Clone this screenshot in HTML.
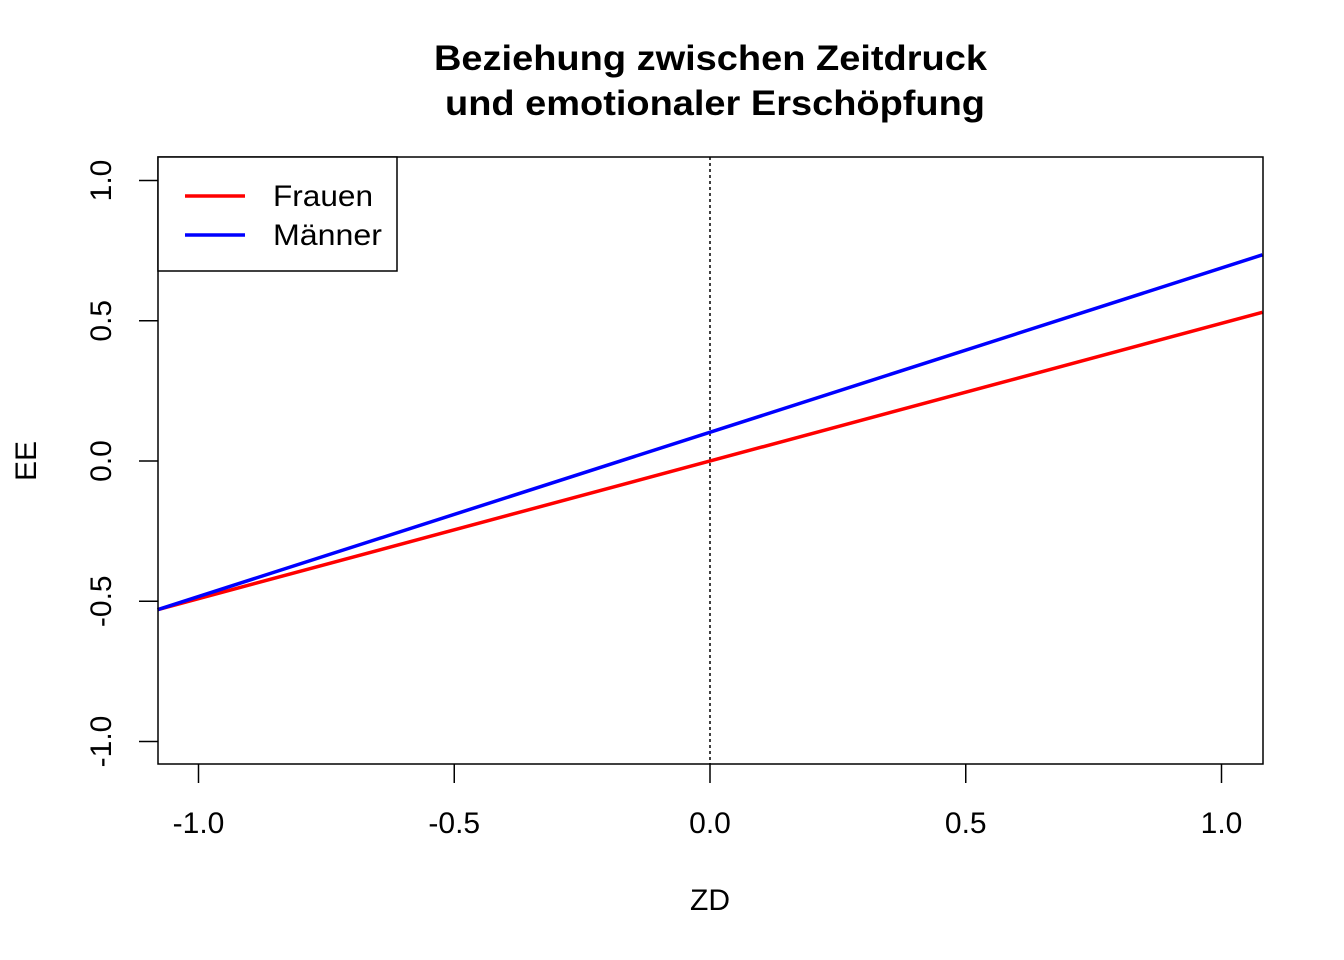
<!DOCTYPE html>
<html><head><meta charset="utf-8"><style>
html,body{margin:0;padding:0;background:#fff;}
svg{display:block;font-family:"Liberation Sans",Arial,sans-serif;}
</style></head><body>
<svg id="chart" width="1344" height="960" viewBox="0 0 1344 960">
<text x="434" y="70" font-size="35" font-weight="bold" textLength="553" lengthAdjust="spacingAndGlyphs">Beziehung zwischen Zeitdruck</text>
<text x="445" y="115" font-size="35" font-weight="bold" textLength="540" lengthAdjust="spacingAndGlyphs">und emotionaler Erschöpfung</text>
<g id="marks"></g>
<rect x="158" y="157" width="1105" height="607" fill="none" stroke="#000" stroke-width="1.5"/>
<g id="axes"></g>
<text x="710" y="910" text-anchor="middle" font-size="30">ZD</text>
<text transform="translate(36,461) rotate(-90)" text-anchor="middle" font-size="30">EE</text>
<g>
<rect x="158" y="157" width="239" height="114" fill="#fff" stroke="#000" stroke-width="1.5"/>
<line x1="185" y1="196" x2="245" y2="196" stroke="#ff0000" stroke-width="3.5"/>
<text x="273" y="206" font-size="30" textLength="100" lengthAdjust="spacingAndGlyphs">Frauen</text>
<line x1="185" y1="235" x2="245" y2="235" stroke="#0000ff" stroke-width="3.5"/>
<text x="273" y="245" font-size="30" textLength="109" lengthAdjust="spacingAndGlyphs">Männer</text>
</g>
</svg>
<script>
const xEnds = [-1.08, 1.08];
const frauen = [-0.53, 0.53];
const maenner = [-0.53, 0.735];
const xTicks = [-1.0, -0.5, 0.0, 0.5, 1.0];
const xTickLabels = ["-1.0", "-0.5", "0.0", "0.5", "1.0"];
const yTicks = [-1.0, -0.5, 0.0, 0.5, 1.0];
const yTickLabels = ["-1.0", "-0.5", "0.0", "0.5", "1.0"];
const vline = 0;

const NS = "http://www.w3.org/2000/svg";
function sx(v){ return 710 + v * 511.5; }
function sy(v){ return 461 - v * 280.5; }
function mk(tag, attrs, parent){
  const e = document.createElementNS(NS, tag);
  for (const k in attrs) e.setAttribute(k, attrs[k]);
  parent.appendChild(e);
  return e;
}
const marks = document.getElementById('marks');
const axes = document.getElementById('axes');

let vl = mk('line', {x1: sx(vline), x2: sx(vline), y1: 157, y2: 764, stroke: '#000', 'stroke-width': 1.5, 'stroke-dasharray': '3,3'}, marks);



let lf = mk('line', {x1: sx(xEnds[0]), y1: sy(frauen[0]), x2: sx(xEnds[1]), y2: sy(frauen[1]), stroke: '#ff0000', 'stroke-width': 3.5}, marks);


let lm = mk('line', {x1: sx(xEnds[0]), y1: sy(maenner[0]), x2: sx(xEnds[1]), y2: sy(maenner[1]), stroke: '#0000ff', 'stroke-width': 3.5}, marks);



xTicks.forEach((v, i) => {
  let t = mk('line', {x1: sx(v), x2: sx(v), y1: 764, y2: 783, stroke: '#000', 'stroke-width': 1.5}, axes);
  
  
  let l = mk('text', {x: sx(v), y: 833, 'text-anchor': 'middle', 'font-size': 30}, axes);
  l.textContent = xTickLabels[i];
  
  
});
yTicks.forEach((v, i) => {
  let t = mk('line', {x1: 139, x2: 158, y1: sy(v), y2: sy(v), stroke: '#000', 'stroke-width': 1.5}, axes);
  
  
  let l = mk('text', {transform: 'translate(111,' + sy(v) + ') rotate(-90)', 'text-anchor': 'middle', 'font-size': 30}, axes);
  l.textContent = yTickLabels[i];
  
  
});
</script>
</body></html>
